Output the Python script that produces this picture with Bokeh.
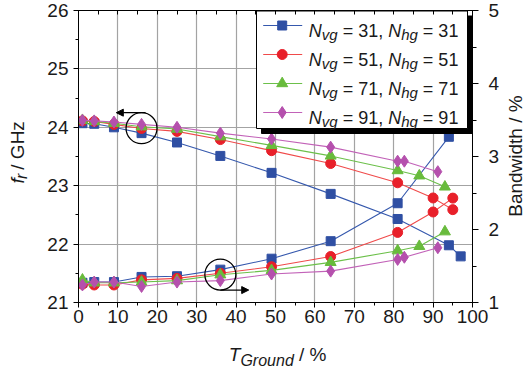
import math
from bokeh.plotting import figure
from bokeh.layouts import row, column
from bokeh.models import Range1d, LinearAxis, FixedTicker, Label, Arrow, NormalHead
from bokeh.embed import file_html
from bokeh.resources import INLINE

# ---------------- data ----------------
t_31 = [1, 4, 9, 16, 25, 36, 49, 64, 81, 94, 97]
f_31 = [24.07, 24.06, 24.00, 23.90, 23.74, 23.51, 23.22, 22.86, 22.43, 21.98, 21.79]
tb_31 = [1, 4, 9, 16, 25, 36, 49, 64, 81, 94]
bw_31 = [1.27, 1.28, 1.28, 1.35, 1.36, 1.45, 1.60, 1.84, 2.36, 3.27]

t_51 = [1, 4, 9, 16, 25, 36, 49, 64, 81, 90, 95]
f_51 = [24.11, 24.10, 24.05, 23.98, 23.93, 23.79, 23.60, 23.38, 23.05, 22.79, 22.59]
bw_51 = [1.25, 1.24, 1.24, 1.31, 1.33, 1.40, 1.49, 1.63, 1.96, 2.24, 2.43]

t_71 = [1, 4, 9, 16, 25, 36, 49, 64, 81, 86.5, 93]
f_71 = [24.12, 24.10, 24.07, 24.01, 23.97, 23.84, 23.69, 23.51, 23.26, 23.17, 22.98]
bw_71 = [1.31, 1.27, 1.27, 1.28, 1.30, 1.38, 1.44, 1.55, 1.71, 1.77, 1.97]

t_91 = [1, 4, 9, 16, 25, 36, 49, 64, 81, 82.7, 91.2]
f_91 = [24.12, 24.11, 24.09, 24.05, 24.00, 23.90, 23.80, 23.66, 23.42, 23.42, 23.24]
bw_91 = [1.24, 1.28, 1.28, 1.22, 1.28, 1.30, 1.39, 1.43, 1.59, 1.62, 1.75]

n_values = [31, 51, 71, 91]
x_ticks = [0, 10, 20, 30, 40, 50, 60, 70, 80, 90, 100]
fr_ticks = [21, 22, 23, 24, 25, 26]
bw_ticks = [1, 2, 3, 4, 5]

# ---------------- styling ----------------
FONT = "Liberation Sans"
TXT = "#1a1a1a"
colors = {
    31: ("#3558ad", "#2f4fa3", "square", 9),
    51: ("#f04a4a", "#e8202a", "circle", 10),
    71: ("#6cc04a", "#68bb3c", "triangle", 11),
    91: ("#c262b8", "#b550ad", "diamond", 12),
}

# layout geometry (canvas pixels)
LW, RW = 36, 20                 # side strips for the vertical axis titles
MAIN_W, MAIN_H = 524 - LW - RW, 334
BOT_H = 369 - MAIN_H
ML, MT = 78 - LW, 10            # main figure borders
FW, FH = 394, 292

p = figure(width=MAIN_W, height=MAIN_H, x_range=Range1d(0, 100), y_range=Range1d(21, 26),
           output_backend="svg", toolbar_location=None, tools="",
           min_border_left=ML, min_border_right=MAIN_W - ML - FW, min_border_top=MT,
           min_border_bottom=MAIN_H - MT - FH)
p.extra_y_ranges = {"bw": Range1d(1, 5), "py": Range1d(FH, 0)}
p.extra_x_ranges = {"px": Range1d(0, FW)}
p.outline_line_color = "black"
p.outline_line_width = 1
p.background_fill_color = "white"
p.border_fill_color = "white"

def style_axis(ax):
    ax.axis_line_color = "black"
    ax.major_tick_line_color = "black"
    ax.minor_tick_line_color = "black"
    ax.major_label_text_font = FONT
    ax.major_label_text_font_size = "19px"
    ax.major_label_text_color = TXT
    ax.axis_label = None

xa = p.xaxis[0]
xa.ticker = FixedTicker(ticks=x_ticks, minor_ticks=list(range(0, 101, 5)))
style_axis(xa)
xa.major_tick_out, xa.major_tick_in = 5, 0
xa.minor_tick_out, xa.minor_tick_in = 3, 0
xa.major_label_standoff = 2

ya = p.yaxis[0]
ya.ticker = FixedTicker(ticks=fr_ticks, minor_ticks=[21 + 0.5 * i for i in range(11)])
style_axis(ya)
ya.major_tick_out, ya.major_tick_in = 5, 0
ya.minor_tick_out, ya.minor_tick_in = 3, 0
ya.major_label_standoff = 5

ra = LinearAxis(y_range_name="bw", ticker=FixedTicker(ticks=bw_ticks, minor_ticks=[1 + 0.5 * i for i in range(9)]))
style_axis(ra)
ra.major_tick_out, ra.major_tick_in = 6, 0
ra.minor_tick_out, ra.minor_tick_in = 4, 0
ra.major_label_standoff = 10
p.add_layout(ra, "right")

ta = LinearAxis(ticker=FixedTicker(ticks=[], minor_ticks=list(range(0, 101, 5))))
style_axis(ta)
ta.minor_tick_in, ta.minor_tick_out = 4, 0
ta.major_tick_in, ta.major_tick_out = 0, 0
ta.major_label_standoff = 0
p.add_layout(ta, "above")

p.xgrid.ticker = FixedTicker(ticks=x_ticks[1:-1])
p.ygrid.ticker = FixedTicker(ticks=fr_ticks[1:-1])
for g in (p.xgrid[0], p.ygrid[0]):
    g.grid_line_color = "#a3a3a3"
    g.grid_line_width = 1.2

# ---------------- series ----------------
series = [
    (31, t_31, f_31, tb_31, bw_31),
    (51, t_51, f_51, t_51, bw_51),
    (71, t_71, f_71, t_71, bw_71),
    (91, t_91, f_91, t_91, bw_91),
]
for n, tf, fv, tb, bv in series:
    lc, mc, mk, ms = colors[n]
    p.line(tf, fv, line_color=lc, line_width=1.1)
    p.scatter(tf, fv, marker=mk, size=ms, fill_color=mc, line_color=mc)
    p.line(tb, bv, line_color=lc, line_width=1.1, y_range_name="bw")
    p.scatter(tb, bv, marker=mk, size=ms, fill_color=mc, line_color=mc, y_range_name="bw")

# ---------------- circle / arrow annotations ----------------
ppy_f = FH / 5.0
ppy_b = FH / 4.0
i16 = t_91.index(16)
cx1 = 16
cy1 = (f_31[i16] + f_51[i16] + f_71[i16] + f_91[i16]) / 4
p.scatter([cx1], [cy1], marker="circle", size=31, fill_color=None, line_color="black", line_width=1.3)
ya1 = cy1 + 15.5 / ppy_f
p.add_layout(Arrow(end=NormalHead(size=7, fill_color="black", line_color="black"),
                   x_start=cx1 + 1.0, y_start=ya1, x_end=cx1 - 6.4, y_end=ya1,
                   line_color="black", line_width=1.3))
i36 = t_91.index(36)
cx2 = 36
cy2 = (bw_31[i36] + bw_51[i36] + bw_71[i36] + bw_91[i36]) / 4
p.scatter([cx2], [cy2], marker="circle", size=31, fill_color=None, line_color="black",
          line_width=1.3, y_range_name="bw")
ya2 = cy2 - 15.5 / ppy_b
p.add_layout(Arrow(end=NormalHead(size=7, fill_color="black", line_color="black"),
                   x_start=cx2, y_start=ya2, x_end=cx2 + 7.2, y_end=ya2,
                   line_color="black", line_width=1.3, y_range_name="bw"))

# ---------------- rich text helpers ----------------
W = {' ': 278, '=': 584, ',': 278, '/': 278, '%': 889, 'N': 722, 'v': 500, 'g': 556,
     'h': 556, 'T': 611, 'G': 778, 'r': 333, 'o': 556, 'u': 556, 'n': 556, 'd': 556,
     'f': 278, 'H': 722, 'z': 500}
for dgt in "0123456789":
    W[dgt] = 556

def tw(s, fs):
    return sum(W.get(c, 556) for c in s) / 1000.0 * fs

def rich(fig, pieces, x0, y0, rotated=False, rng=None):
    pos = 0.0
    for text, italic, fs, shift in pieces:
        if text == " ":
            pos += tw(" ", fs)
            continue
        if rotated:
            x, y, ang = x0 + shift, y0 - pos, math.pi / 2
        else:
            x, y, ang = x0 + pos, y0 + shift, 0
        kw = {} if rng is None else dict(x_range_name=rng[0], y_range_name=rng[1])
        fig.add_layout(Label(x=x, y=y, text=text, text_font=FONT, text_font_size=f"{fs}px",
                             text_font_style="italic" if italic else "normal",
                             text_color=TXT, text_baseline="alphabetic", text_align="left",
                             angle=ang, **kw))
        pos += tw(text, fs)

# ---------------- legend (drawn in frame pixel space) ----------------
L, R, T, B = 178, 389, 0.5, 118
p.quad(left=[L + 5], right=[R + 5], top=[T + 5], bottom=[B + 5], fill_color="black",
       line_color="black", x_range_name="px", y_range_name="py")
p.quad(left=[L], right=[R], top=[T], bottom=[B], fill_color="white", line_color="black",
       line_width=1, x_range_name="px", y_range_name="py")
for i, n in enumerate(n_values):
    lc, mc, mk, ms = colors[n]
    yc = 15 + 29 * i
    p.line([184.7, 223.7], [yc, yc], line_color=lc, line_width=1.1, x_range_name="px", y_range_name="py")
    p.scatter([203.7], [yc], marker=mk, size=ms, fill_color=mc, line_color=mc,
              x_range_name="px", y_range_name="py")
    rich(p, [("N", True, 18, 0), ("vg", True, 15, 3.5), (" ", False, 18, 0),
             (f"= {n},", False, 18, 0), (" ", False, 18, 0),
             ("N", True, 18, 0), ("hg", True, 15, 3.5), (" ", False, 18, 0),
             (f"= {n}", False, 18, 0)], 230.3, yc + 5.5, rng=("px", "py"))

# ---------------- side strips holding the axis titles ----------------
def strip(w, h):
    f = figure(width=w, height=h, x_range=Range1d(0, w), y_range=Range1d(h, 0),
               output_backend="svg", toolbar_location=None, tools="",
               x_axis_location=None, y_axis_location=None,
               min_border=0, min_border_left=0, min_border_right=0,
               min_border_top=0, min_border_bottom=0)
    f.outline_line_color = None
    f.grid.visible = False
    f.background_fill_color = "white"
    f.border_fill_color = "white"
    return f

left_fig = strip(LW, MAIN_H)
rich(left_fig, [("f", True, 19, 0), ("r", True, 16, 4), (" ", False, 19, 0), ("/ GHz", False, 19, 0)],
     16.5, 198, rotated=True)

right_fig = strip(RW, MAIN_H)
right_fig.add_layout(Label(x=515 - (524 - RW), y=166.5, text="Bandwidth / %", text_font=FONT,
                           text_font_size="19px", text_color=TXT, text_baseline="alphabetic",
                           text_align="center", angle=math.pi / 2))

bottom_fig = strip(524, BOT_H)
rich(bottom_fig, [("T", True, 19, 0), ("Ground", True, 16, 6), (" ", False, 19, 0), ("/ %", False, 19, 0)],
     228.3, 354 - MAIN_H)

layout = column(row(left_fig, p, right_fig, spacing=0), bottom_fig, spacing=0)
open("out.html", "w").write(file_html(layout, INLINE))
